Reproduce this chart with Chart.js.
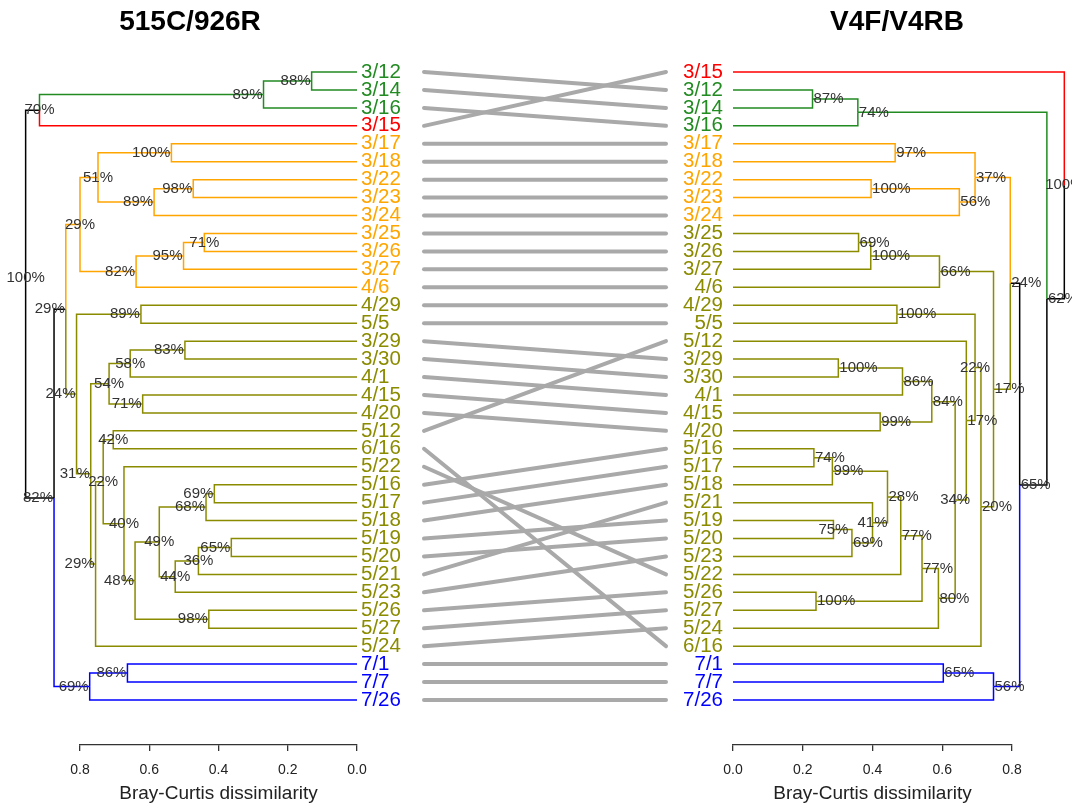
<!DOCTYPE html>
<html>
<head>
<meta charset="utf-8">
<script src="https://cdn.jsdelivr.net/npm/chart.js@4.4.1/dist/chart.umd.min.js"></script>
<style>
html,body{margin:0;padding:0;background:#fff;}
#wrap{position:relative;width:1072px;height:803px;overflow:hidden;background:#fff;}
#wrap canvas{position:absolute;left:0;top:0;}
.ttl{position:absolute;top:5px;font:bold 28px "Liberation Sans",Arial,Helvetica,sans-serif;line-height:32px;color:#000;transform:translateX(-50%);white-space:nowrap;}
</style>
</head>
<body>
<div id="wrap">
  <canvas id="cMid" width="1072" height="803"></canvas>
  <canvas id="cLeft" width="1072" height="803"></canvas>
  <canvas id="cRight" width="1072" height="803"></canvas>
  <div class="ttl" style="left:190px">515C/926R</div>
  <div class="ttl" style="left:897px">V4F/V4RB</div>
</div>
<script>
// ---------------- DATA ----------------
const xTickValues = [0, 0.2, 0.4, 0.6, 0.8];
const axisTitle = 'Bray-Curtis dissimilarity';

// Left dendrogram (515C/926R), leaves top to bottom
const leftLeaves = ['3/12','3/14','3/16','3/15','3/17','3/18','3/22','3/23','3/24','3/25','3/26','3/27','4/6',
  '4/29','5/5','3/29','3/30','4/1','4/15','4/20','5/12','6/16','5/22','5/16','5/17','5/18','5/19','5/20','5/21','5/23',
  '5/26','5/27','5/24','7/1','7/7','7/26'];
const leftGroups = ['g','g','g','r','o','o','o','o','o','o','o','o','o',
  'v','v','v','v','v','v','v','v','v','v','v','v','v','v','v','v','v','v','v','v','b','b','b'];
// merges (negative = leaf number, positive = earlier merge number)
const leftMerge = [[-1,-2],[1,-3],[2,-4],[-5,-6],[-7,-8],[5,-9],[4,6],[-10,-11],[8,-12],[9,-13],[7,10],
  [-14,-15],[-16,-17],[13,-18],[-19,-20],[14,15],[-21,-22],[-24,-25],[18,-26],[-27,-28],[20,-29],[21,-30],
  [19,22],[-31,-32],[23,24],[-23,25],[17,26],[27,-33],[16,28],[12,29],[11,30],[-34,-35],[32,-36],[31,33],[3,34]];
const leftHeights = [0.131,0.270,0.917,0.536,0.473,0.586,0.748,0.441,0.501,0.638,0.800,
  0.624,0.497,0.655,0.619,0.716,0.704,0.412,0.436,0.363,0.458,0.525,
  0.571,0.428,0.641,0.673,0.733,0.755,0.769,0.810,0.841,0.663,0.772,0.875,0.957];
const leftSupport = [88,89,70,100,98,89,51,71,95,82,29,
  89,83,58,71,54,42,69,68,65,36,44,
  49,98,48,40,22,29,31,24,29,86,69,82,100];

// Right dendrogram (V4F/V4RB), leaves top to bottom
const rightLeaves = ['3/15','3/12','3/14','3/16','3/17','3/18','3/22','3/23','3/24','3/25','3/26','3/27','4/6',
  '4/29','5/5','5/12','3/29','3/30','4/1','4/15','4/20','5/16','5/17','5/18','5/21','5/19','5/20','5/23','5/22',
  '5/26','5/27','5/24','6/16','7/1','7/7','7/26'];
const rightGroups = ['r','g','g','g','o','o','o','o','o',
  'v','v','v','v','v','v','v','v','v','v','v','v','v','v','v','v','v','v','v','v','v','v','v','v','b','b','b'];
const rightMerge = [[-2,-3],[1,-4],[-5,-6],[-7,-8],[4,-9],[3,5],[-10,-11],[7,-12],[8,-13],[-14,-15],
  [-17,-18],[11,-19],[-20,-21],[12,13],[-22,-23],[15,-24],[-26,-27],[17,-28],[-25,18],[16,19],[20,-29],
  [-30,-31],[21,22],[23,-32],[14,24],[-16,25],[10,26],[27,-33],[9,28],[6,29],[-34,-35],[31,-36],[30,32],[2,33],[-1,34]];
const rightHeights = [0.228,0.358,0.465,0.396,0.649,0.694,0.360,0.395,0.592,0.470,
  0.302,0.486,0.422,0.570,0.232,0.285,0.288,0.341,0.400,0.443,0.481,
  0.238,0.542,0.589,0.637,0.669,0.694,0.711,0.747,0.795,0.603,0.747,0.822,0.900,0.950];
const rightSupport = [87,74,97,100,56,37,69,100,66,100,
  100,86,99,84,74,99,75,69,41,28,77,
  100,77,80,34,17,22,20,17,24,65,56,65,62,100];

// ---------------- STYLE ----------------
const FONT = '"Liberation Sans", Arial, Helvetica, sans-serif';
const GROUP_COLORS = {g:'#228B22', r:'#FF0000', o:'#FFA500', v:'#8B8B00', b:'#0000FF', k:'#000000'};
const LABEL_STYLE_LEFT = {3:{align:'center'},7:{align:'center'},8:{align:'center'},11:{align:'center'},
  14:{align:'center'},16:{align:'center'},17:{align:'center'},21:{align:'center'},22:{align:'center'},
  23:{align:'center'},26:{align:'center'},27:{align:'center'},35:{align:'center',dy:-26}};
const LABEL_STYLE_RIGHT = {17:{align:'center'},19:{align:'center'},25:{align:'center'},27:{align:'center'},35:{align:'center'}};
const Y_MIN = -1, Y_MAX = 37.508;

// ---------------- BUILD ----------------
function buildNodes(merge, heights, groups){
  const nodes = [];
  const ref = r => r < 0 ? {x:0, y:-r-1, group:groups[-r-1]} : nodes[r-1];
  merge.forEach((m,k) => {
    const a = ref(m[0]), b = ref(m[1]);
    nodes.push({x:heights[k], y:(a.y+b.y)/2, group:(a.group===b.group ? a.group : 'k'), kids:[a,b]});
  });
  return nodes;
}
function branchDatasets(nodes){
  const ds = [];
  nodes.forEach(n => n.kids.forEach(c => {
    // node -> elbow -> child (x non-increasing, so no visible-range trimming)
    ds.push({
      data:[{x:n.x,y:n.y},{x:n.x,y:c.y},{x:c.x,y:c.y}],
      borderColor:GROUP_COLORS[c.group], borderWidth:1.5, showLine:true,
      pointRadius:0, pointHoverRadius:0, fill:false, clip:false, tension:0
    });
  }));
  return ds;
}
function supportLabelPlugin(nodes, support, defAlign, styles){
  return {
    id:'supportLabels',
    afterDatasetsDraw(chart){
      const ctx = chart.ctx, xs = chart.scales.x, ys = chart.scales.y;
      ctx.save();
      ctx.font = '15px ' + FONT;
      ctx.fillStyle = '#333333';
      ctx.textBaseline = 'middle';
      nodes.forEach((n,k) => {
        const st = styles[k+1] || {};
        const align = st.align || defAlign;
        let px = xs.getPixelForValue(n.x);
        if (align === 'right') px -= 1;
        if (align === 'left') px += 1;
        const py = ys.getPixelForValue(n.y) + (st.dy || 0);
        ctx.textAlign = align;
        ctx.fillText(support[k] + '%', px, py);
      });
      ctx.restore();
    }
  };
}
function xAxis(reverse){
  return {
    type:'linear', min:0, max:0.8, reverse:reverse,
    afterBuildTicks: s => { s.ticks = xTickValues.map(v => ({value:v})); },
    afterFit: s => { s.height = 58; },
    ticks:{ callback: v => Number(v).toFixed(1), font:{family:FONT, size:14}, color:'#222', padding:11, autoSkip:false, maxRotation:0 },
    grid:{ display:true, drawOnChartArea:false, drawTicks:true, tickLength:6, color:'#333', lineWidth:1.3 },
    border:{ display:true, color:'#333', width:1.3 },
    title:{ display:true, text:axisTitle, font:{family:FONT, size:19, lineHeight:1.0}, color:'#222', padding:{top:0,bottom:0} }
  };
}
function yAxis(leaves, groups, position, pad){
  return {
    type:'linear', position:position, reverse:true, min:Y_MIN, max:Y_MAX,
    afterBuildTicks: s => { s.ticks = leaves.map((_,i) => ({value:i})); },
    afterFit: s => { s.width = 70; },
    ticks:{ autoSkip:false, padding:pad, font:{family:FONT, size:20.5},
      color: c => GROUP_COLORS[groups[c.tick.value]],
      callback: v => leaves[v] },
    grid:{ display:false, drawTicks:false },
    border:{ display:false }
  };
}

const leftNodes = buildNodes(leftMerge, leftHeights, leftGroups);
const rightNodes = buildNodes(rightMerge, rightHeights, rightGroups);

// Left dendrogram: x 0.8 -> px 80, 0.0 -> px 357
new Chart(document.getElementById('cLeft'), {
  type:'scatter',
  data:{ datasets: branchDatasets(leftNodes) },
  options:{
    responsive:false, animation:false, events:[],
    layout:{ padding:{ left:80, right:1072-357-70, top:72-17.943, bottom:0 } },
    plugins:{ legend:{display:false}, tooltip:{enabled:false} },
    scales:{ x:xAxis(true), y:yAxis(leftLeaves, leftGroups, 'right', 4) }
  },
  plugins:[supportLabelPlugin(leftNodes, leftSupport, 'right', LABEL_STYLE_LEFT)]
});

// Right dendrogram: x 0.0 -> px 733, 0.8 -> px 1012
new Chart(document.getElementById('cRight'), {
  type:'scatter',
  data:{ datasets: branchDatasets(rightNodes) },
  options:{
    responsive:false, animation:false, events:[],
    layout:{ padding:{ left:733-70, right:1072-1012, top:72-17.943, bottom:0 } },
    plugins:{ legend:{display:false}, tooltip:{enabled:false} },
    scales:{ x:xAxis(false), y:yAxis(rightLeaves, rightGroups, 'left', 10) }
  },
  plugins:[supportLabelPlugin(rightNodes, rightSupport, 'left', LABEL_STYLE_RIGHT)]
});

// Connecting lines between the two leaf orders
const linkDatasets = leftLeaves.map((name,i) => ({
  data:[{x:0,y:i},{x:1,y:rightLeaves.indexOf(name)}],
  borderColor:'#A9A9A9', borderWidth:4, borderCapStyle:'round', showLine:true,
  pointRadius:0, pointHoverRadius:0, fill:false, clip:false
}));
new Chart(document.getElementById('cMid'), {
  type:'scatter',
  data:{ datasets: linkDatasets },
  options:{
    responsive:false, animation:false, events:[],
    layout:{ padding:{ left:424, right:1072-666, top:72-17.943, bottom:58 } },
    plugins:{ legend:{display:false}, tooltip:{enabled:false} },
    scales:{
      x:{ type:'linear', min:0, max:1, display:false },
      y:{ type:'linear', min:Y_MIN, max:Y_MAX, reverse:true, display:false }
    }
  }
});
</script>
</body>
</html>
